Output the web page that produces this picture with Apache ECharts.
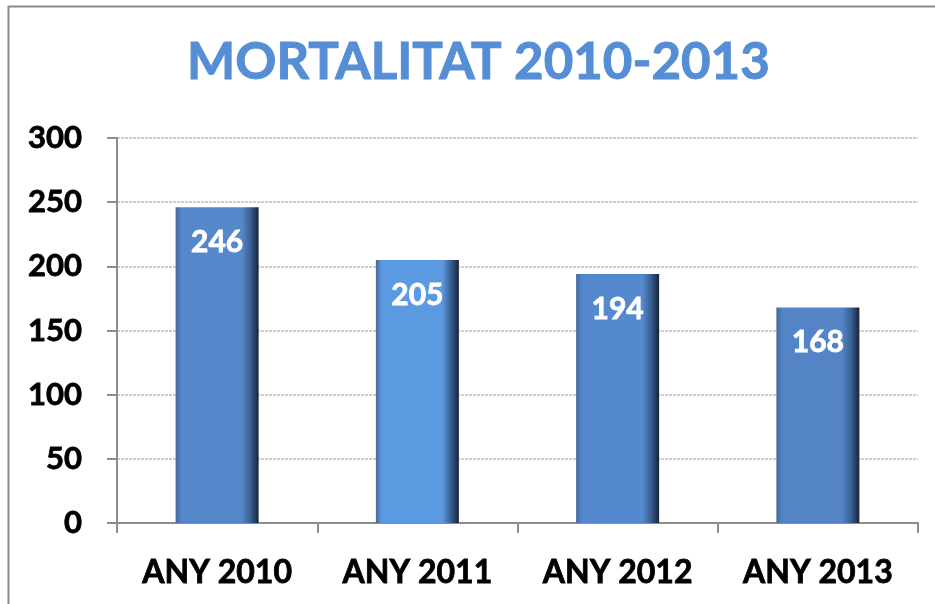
<!DOCTYPE html>
<html>
<head>
<meta charset="utf-8">
<script src="https://cdn.jsdelivr.net/npm/echarts@6/dist/echarts.min.js"></script>
<style>
    html, body { margin: 0; padding: 0; background: #fff; }
    #mortalitat-chart { width: 935px; height: 604px; }
</style>
</head>
<body>
<div id="mortalitat-chart"></div>
<script>
    // dades
    const categories = ['ANY 2010', 'ANY 2011', 'ANY 2012', 'ANY 2013'];
    const deaths = [246, 205, 194, 168];
    const barColors = ['#5588CA', '#5B9AE0', '#5589CD', '#5384C6'];

    function barFill(c) {
        return new echarts.graphic.LinearGradient(0, 0, 1, 0, [
            { offset: 0, color: '#46679A' },
            { offset: 0.07, color: c },
            { offset: 0.8, color: c },
            { offset: 0.9, color: '#3A5F93' },
            { offset: 1, color: '#14243A' }
        ]);
    }

    const chart = echarts.init(document.getElementById('mortalitat-chart'));
    chart.setOption({
        animation: false,
        title: {
            text: 'MORTALITAT 2010-2013',
            left: 182,
            top: 32,
            textStyle: {
                fontFamily: 'Lato',
                fontWeight: 'bold',
                fontSize: 51,
                color: '#558ED5',
                textBorderColor: '#558ED5',
                textBorderWidth: 1
            }
        },
        graphic: [{
            type: 'rect',
            shape: { x: 8.5, y: 6.5, width: 960, height: 640 },
            style: { fill: 'none', stroke: '#8C8C8C', lineWidth: 2 },
            silent: true
        }],
        grid: {
            top: 138,
            left: 117,
            right: 17,
            bottom: 81,
            containLabel: false
        },
        xAxis: {
            type: 'category',
            data: categories,
            boundaryGap: true,
            axisLine: { lineStyle: { color: '#8C8C8C', width: 2 } },
            axisTick: { show: true, alignWithLabel: false, length: 10, lineStyle: { color: '#8C8C8C', width: 2 } },
            axisLabel: {
                margin: 34,
                color: '#000',
                fontFamily: 'Lato',
                fontWeight: 'bold',
                fontSize: 32,
                textBorderColor: '#000',
                textBorderWidth: 0.8
            }
        },
        yAxis: {
            type: 'value',
            min: 0,
            max: 300,
            interval: 50,
            axisLine: { show: true, lineStyle: { color: '#8C8C8C', width: 2 } },
            axisTick: { show: true, length: 10, lineStyle: { color: '#8C8C8C', width: 2 } },
            splitLine: { lineStyle: { color: '#BDBDBD', type: [3, 1], width: 1.5 } },
            axisLabel: {
                margin: 35,
                color: '#000',
                fontFamily: 'Lato',
                fontWeight: 'bold',
                fontSize: 31,
                textBorderColor: '#000',
                textBorderWidth: 0.8
            }
        },
        series: [{
            type: 'bar',
            barWidth: 83,
            data: deaths.map((v, i) => ({
                value: v,
                itemStyle: { color: barFill(barColors[i]) }
            })),
            label: {
                show: true,
                position: 'insideTop',
                distance: 20,
                color: '#fff',
                fontFamily: 'Lato',
                fontWeight: 'bold',
                fontSize: 30,
                textBorderColor: '#fff',
                textBorderWidth: 0.8
            }
        }]
    });
</script>
</body>
</html>
